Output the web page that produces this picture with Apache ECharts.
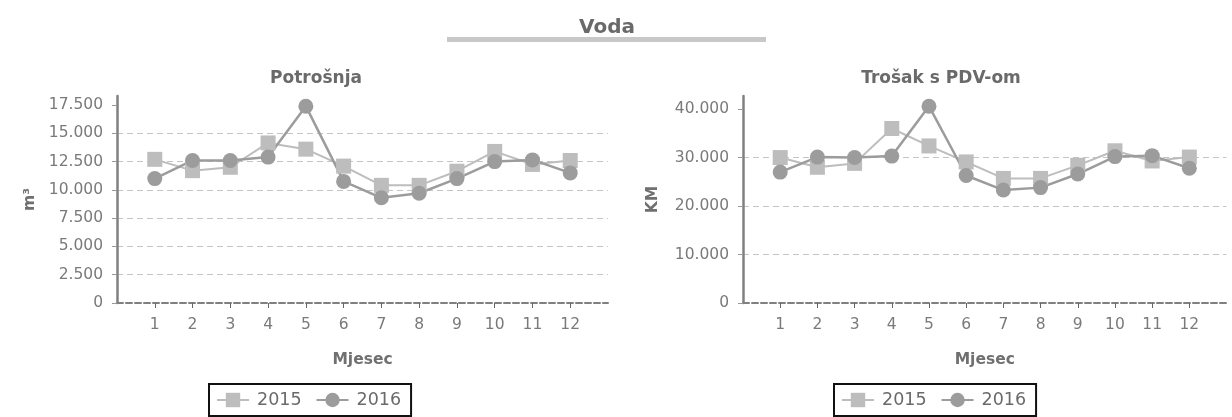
<!DOCTYPE html>
<html>
<head>
<meta charset="utf-8">
<script src="https://cdn.jsdelivr.net/npm/echarts@6/dist/echarts.min.js"></script>
<style>
html,body{margin:0;padding:0;background:#fff;}
#c{width:1232px;height:417px;}
</style>
</head>
<body>
<div id="c"></div>
<script>
const months = ['1','2','3','4','5','6','7','8','9','10','11','12'];
const seriesNames = ['2015', '2016'];
const potrosnja2015 = [12700, 11700, 12000, 14150, 13600, 12100, 10400, 10400, 11650, 13400, 12250, 12600];
const potrosnja2016 = [11000, 12600, 12600, 12900, 17400, 10750, 9300, 9700, 11000, 12500, 12650, 11500];
const trosak2015 = [30000, 28000, 28800, 36000, 32400, 29100, 25700, 25700, 28400, 31400, 29300, 30100];
const trosak2016 = [27000, 30100, 30000, 30300, 40600, 26300, 23300, 23800, 26600, 30200, 30400, 27800];
const potrosnjaTicks = [0, 2500, 5000, 7500, 10000, 12500, 15000, 17500];
const trosakTicks = [0, 10000, 20000, 30000, 40000];

const FONT = 'DejaVu Sans';
const cats = [''].concat(months, [' ']);
const fmt = v => String(v).replace(/\B(?=(\d{3})+(?!\d))/g, '.');
const pairs = vals => months.map((m, i) => [m, vals[i]]);

function xAxis(gi) {
  return {
    type: 'category', gridIndex: gi, data: cats, boundaryGap: false,
    name: 'Mjesec', nameLocation: 'middle', nameGap: 49,
    nameTextStyle: {fontFamily: FONT, fontWeight: 'bold', fontSize: 15.5, color: '#707070'},
    axisLine: {lineStyle: {color: '#808080', width: 2, type: [6, 3]}},
    axisTick: {show: true, length: 5, lineStyle: {color: '#666'}, interval: (i) => i > 0 && i < 13, alignWithLabel: true},
    axisLabel: {interval: 0, margin: 14, fontFamily: FONT, fontSize: 15.5, color: '#7a7a7a'},
    splitLine: {show: false}
  };
}
function yAxis(gi, name, max, interval, ticks, gap) {
  return {
    type: 'value', gridIndex: gi, min: 0, max: max, interval: interval,
    name: name, nameLocation: 'middle', nameRotate: 90, nameGap: gap,
    nameTextStyle: {fontFamily: FONT, fontWeight: 'bold', fontSize: 15.5, color: '#707070'},
    axisLine: {show: true, lineStyle: {color: '#808080', width: 2.5}},
    axisTick: {show: true, length: 5, lineStyle: {color: '#999'}, customValues: ticks},
    axisLabel: {margin: 14, fontFamily: FONT, fontSize: 15.5, color: '#7a7a7a', formatter: fmt, customValues: ticks},
    splitLine: {show: true, showMinLine: false, showMaxLine: false, lineStyle: {color: '#c4c4c4', type: [6, 4], width: 1}}
  };
}
function s(name, gi, vals, symbol, color, lw) {
  return {
    name: name, type: 'line', xAxisIndex: gi, yAxisIndex: gi, data: pairs(vals),
    symbol: symbol, symbolSize: 15, showAllSymbol: true,
    lineStyle: {color: color, width: lw}, itemStyle: {color: color},
    emphasis: {disabled: true}, animation: false
  };
}
function legend(left) {
  return {
    left: left, top: 384, data: seriesNames, orient: 'horizontal',
    itemWidth: 32, itemHeight: 18, itemGap: 14,
    borderColor: '#111', borderWidth: 2, padding: [7, 10, 7, 7],
    textStyle: {fontFamily: FONT, fontSize: 17.5, color: '#6a6a6a', padding: [0, 0, 0, 3]}
  };
}

const chart = echarts.init(document.getElementById('c'), null, {renderer: 'canvas'});
chart.setOption({
  backgroundColor: '#fff',
  animation: false,
  title: [
    {text: 'Voda', left: 602, top: 13, textAlign: 'center', textStyle: {fontFamily: FONT, fontWeight: 'bold', fontSize: 20, color: '#6a6a6a'}},
    {text: 'Potrošnja', left: 311, top: 65, textAlign: 'center', textStyle: {fontFamily: FONT, fontWeight: 'bold', fontSize: 17, color: '#6a6a6a'}},
    {text: 'Trošak s PDV-om', left: 936, top: 65, textAlign: 'center', textStyle: {fontFamily: FONT, fontWeight: 'bold', fontSize: 17, color: '#6a6a6a'}}
  ],
  graphic: [
    {type: 'rect', shape: {x: 447, y: 37, width: 319, height: 5}, style: {fill: '#c8c8c8'}}
  ],
  legend: [legend(209), legend(834)],
  grid: [
    {left: 117, top: 96, width: 491, height: 207},
    {left: 743, top: 96, width: 491, height: 207}
  ],
  xAxis: [xAxis(0), xAxis(1)],
  yAxis: [
    yAxis(0, 'm³', 18300, 2500, potrosnjaTicks, 79),
    yAxis(1, 'KM', 42700, 10000, trosakTicks, 82)
  ],
  series: [
    s('2015', 0, potrosnja2015, 'rect', '#bdbdbd', 2),
    s('2016', 0, potrosnja2016, 'circle', '#9c9c9c', 2.5),
    s('2015', 1, trosak2015, 'rect', '#bdbdbd', 2),
    s('2016', 1, trosak2016, 'circle', '#9c9c9c', 2.5)
  ]
});
</script>
</body>
</html>
